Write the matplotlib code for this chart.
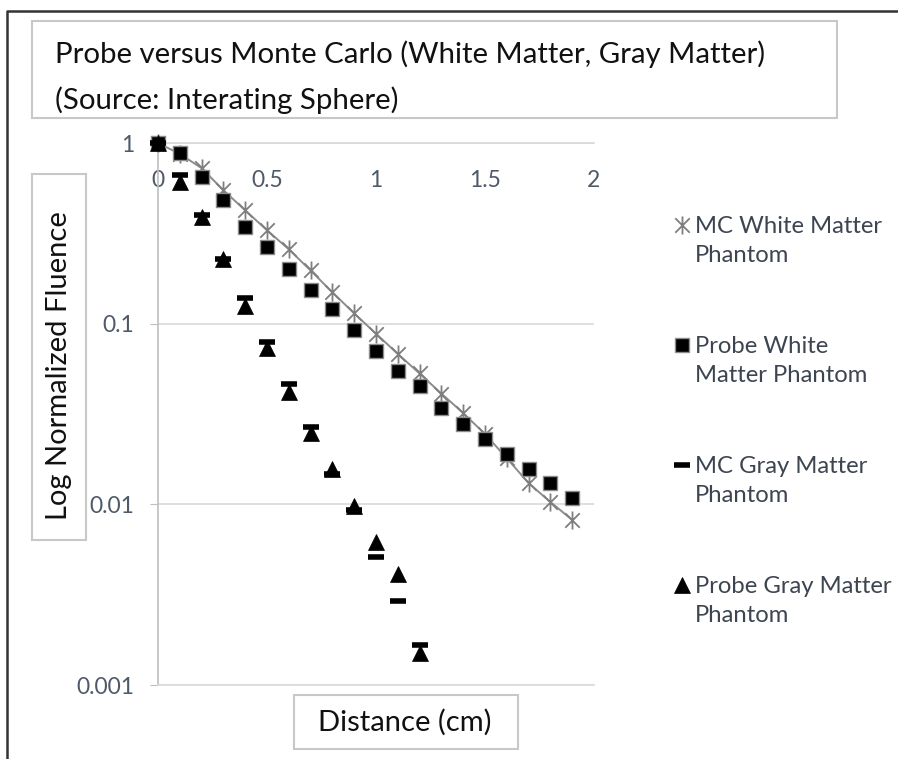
import matplotlib
matplotlib.use("Agg")
import matplotlib.pyplot as plt
from matplotlib.patches import Rectangle
from matplotlib.lines import Line2D
from matplotlib.path import Path
from matplotlib.ticker import NullLocator

plt.rcParams['font.family'] = ['Lato', 'DejaVu Sans']

# distance from source (cm)
dist_white = [0.0, 0.1, 0.2, 0.3, 0.4, 0.5, 0.6, 0.7, 0.8, 0.9,
              1.0, 1.1, 1.2, 1.3, 1.4, 1.5, 1.6, 1.7, 1.8, 1.9]
dist_gray = [0.0, 0.1, 0.2, 0.3, 0.4, 0.5, 0.6, 0.7, 0.8, 0.9, 1.0, 1.1, 1.2]

# normalized fluence
mc_white = [1.0, 0.87, 0.726, 0.548, 0.424, 0.329, 0.258, 0.197, 0.149, 0.114,
            0.088, 0.068, 0.053, 0.041, 0.032, 0.0245, 0.018, 0.0131, 0.0103, 0.0082]
probe_white = [1.0, 0.88, 0.647, 0.482, 0.341, 0.264, 0.200, 0.153, 0.121, 0.092,
               0.071, 0.055, 0.045, 0.034, 0.028, 0.023, 0.019, 0.0157, 0.0131, 0.0108]
mc_gray = [1.0, 0.664, 0.398, 0.227, 0.138, 0.079, 0.0464, 0.0267, 0.0148, 0.0093,
           0.00514, 0.00293, 0.00167]
probe_gray = [1.0, 0.607, 0.388, 0.227, 0.126, 0.0736, 0.042, 0.0249, 0.0157, 0.0098,
              0.0062, 0.0041, 0.0015]

series_names = ['MC White Matter\nPhantom', 'Probe White\nMatter Phantom',
                'MC Gray Matter\nPhantom', 'Probe Gray Matter\nPhantom']
x_ticks = [0, 0.5, 1, 1.5, 2]
x_tick_labels = ['0', '0.5', '1', '1.5', '2']
y_ticks = [1, 0.1, 0.01, 0.001]
y_tick_labels = ['1', '0.1', '0.01', '0.001']

W, H = 898, 759


def fx(px):
    return px / W


def fy(py):
    return 1 - py / H


# excel style "star" marker: an X with a vertical stroke
star = Path([(0, -1), (0, 1), (-0.8, -0.8), (0.8, 0.8), (-0.8, 0.8), (0.8, -0.8)],
            [Path.MOVETO, Path.LINETO] * 3)

styles = [
    dict(marker=star, ms=13, mfc='none', mec='#7f7f7f', mew=1.3),
    dict(marker='s', ms=10, mfc='black', mec='#8c8c8c', mew=1),
    dict(marker='_', ms=12, mec='black', mew=4),
    dict(marker='^', ms=11, mfc='black', mec='black', mew=0.5),
]

fig = plt.figure(figsize=(W / 100, H / 100), dpi=100)
ax = fig.add_axes([fx(158), fy(685), fx(594) - fx(158), fy(143) - fy(685)])

ax.plot(dist_white, mc_white, color='#8c8c8c', lw=1.4, zorder=3, clip_on=False, **styles[0])
ax.plot(dist_white, probe_white, ls='none', zorder=4, clip_on=False, **styles[1])
ax.plot(dist_gray, probe_gray, ls='none', zorder=4, clip_on=False, **styles[3])
ax.plot(dist_gray, mc_gray, ls='none', zorder=5, clip_on=False, **styles[2])

ax.set_yscale('log')
ax.set_ylim(0.001, 1)
ax.set_xlim(0, 2)
ax.set_yticks(y_ticks, y_tick_labels)
ax.yaxis.set_minor_locator(NullLocator())
ax.set_xticks(x_ticks, x_tick_labels)

ax.set_axisbelow(True)
ax.yaxis.grid(True, color='#d9d9d9', lw=1.2)
for side in ['top', 'bottom']:
    ax.spines[side].set_color('#d9d9d9')
    ax.spines[side].set_linewidth(1.2)
ax.spines['right'].set_visible(False)
ax.spines['left'].set_color('#bfbfbf')
ax.spines['left'].set_linewidth(1.2)

ax.tick_params(axis='y', length=6, color='#bfbfbf', pad=11, labelsize=16.5, labelcolor='#4f5a68')
ax.tick_params(axis='x', bottom=False, top=False, labelbottom=False, labeltop=True,
               pad=-38, labelsize=16.5, labelcolor='#4f5a68')

ax.set_ylabel('Log Normalized Fluence', fontsize=21, va='center', color='#111111')
ax.yaxis.set_label_coords((59 - 158) / 436, (685 - 366) / 542)
ax.set_xlabel('Distance (cm)', fontsize=21, va='center', color='#111111')
ax.xaxis.set_label_coords((405 - 158) / 436, (685 - 722) / 542)

# boxes around title and axis titles, plus the outer frame
box_kw = dict(transform=fig.transFigure, fill=False, ec='#c8c8c8', lw=1.5)
fig.patches.append(Rectangle((fx(32), fy(118)), fx(837) - fx(32), fy(21) - fy(118), **box_kw))
fig.patches.append(Rectangle((fx(32), fy(540)), fx(86) - fx(32), fy(174) - fy(540), **box_kw))
fig.patches.append(Rectangle((fx(294), fy(749)), fx(518) - fx(294), fy(695) - fy(749), **box_kw))
fig.add_artist(Line2D([fx(7), fx(7), 1.0], [0.0, fy(11), fy(11)], transform=fig.transFigure,
                      color='#333333', lw=1.8))

fig.text(fx(55), fy(63), 'Probe versus Monte Carlo (White Matter, Gray Matter)',
         fontsize=21.2, va='baseline', color='#111111')
fig.text(fx(55), fy(109), '(Source: Interating Sphere)',
         fontsize=21.2, va='baseline', color='#111111')

# legend on the right
for i, (name, st) in enumerate(zip(series_names, styles)):
    yc = 225 + 120 * i
    fig.add_artist(Line2D([fx(682)], [fy(yc)], transform=fig.transFigure, ls='none', **st))
    fig.text(fx(695), fy(yc + 16), name, fontsize=17.2, va='center', linespacing=1.45,
             color='#3d4550')

fig.savefig('out.png', dpi=100)
